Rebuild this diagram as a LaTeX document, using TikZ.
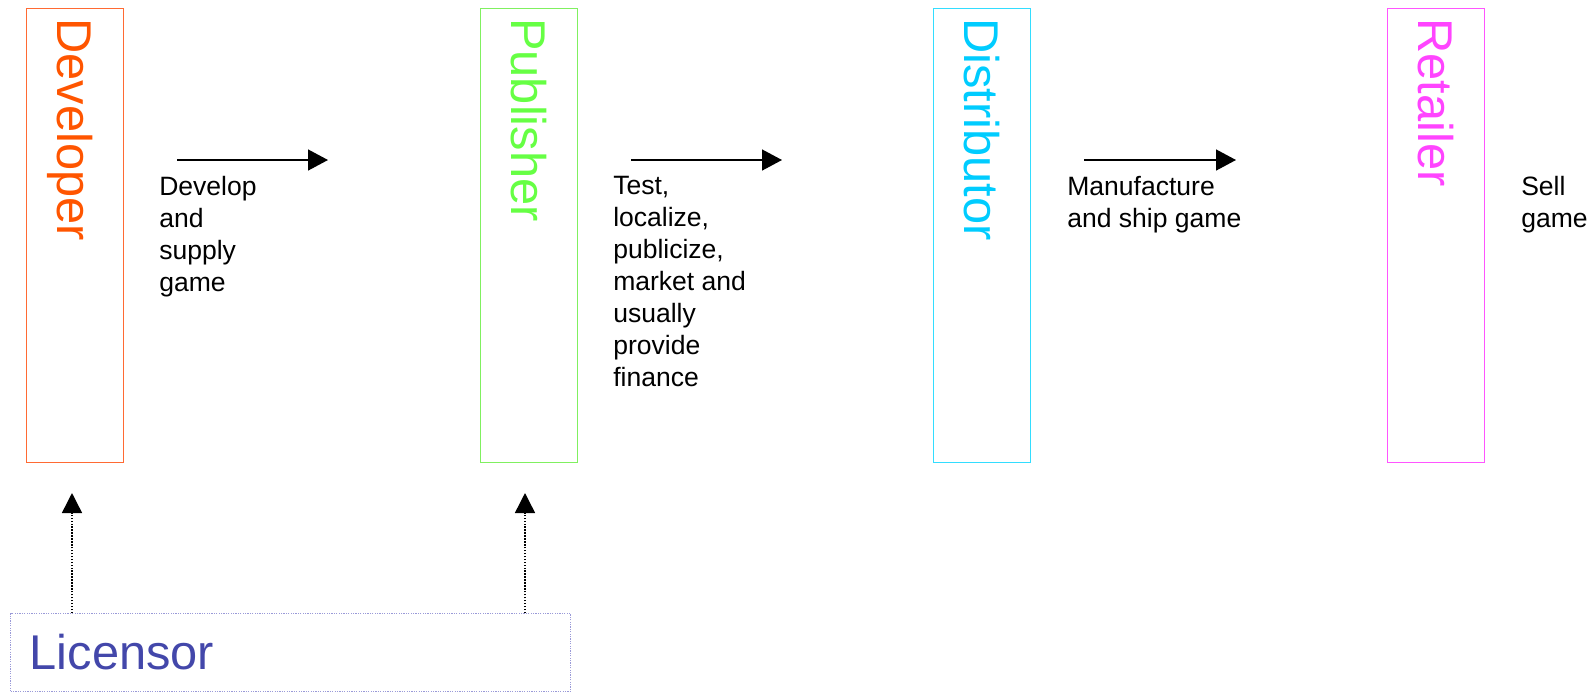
\documentclass[tikz,border=0pt]{standalone}
\usepackage{fontspec}
\setmainfont{Liberation Sans}
\usetikzlibrary{arrows.meta,calc}
% stage colours
\definecolor{devtext}{HTML}{FF5500}
\definecolor{devline}{HTML}{FF6A33}
\definecolor{pubtext}{HTML}{66FF44}
\definecolor{publine}{HTML}{80F060}
\definecolor{distext}{HTML}{00CCFF}
\definecolor{disline}{HTML}{33DDFF}
\definecolor{rettext}{HTML}{FF44FF}
\definecolor{retline}{HTML}{FF55FF}
\definecolor{lictext}{HTML}{4347AA}
\definecolor{licline}{HTML}{9A9AD8}
\begin{document}
\begin{tikzpicture}[x=0.75pt,y=-0.75pt,
  stagebox/.style={draw, line width=1.1pt, minimum width=72.75pt,
    minimum height=340.5pt, inner sep=0pt, anchor=north west},
  stagetitle/.style={rotate=-90, anchor=base west, inner sep=0pt,
    font=\fontsize{36.6pt}{42pt}\selectfont},
  task/.style={anchor=north west, inner sep=0pt, align=left,
    font=\fontsize{19.9pt}{24pt}\selectfont},
  flow/.style={line width=1.1pt, -{Triangle[length=15pt,width=15.75pt]}},
  licence/.style={line width=1.1pt, dash pattern=on 1.1pt off 1.1pt,
    -{Triangle[length=15pt,width=15pt]}}]
  \useasboundingbox (0,0) rectangle (1595,694);

  % the four stages of the chain
  \node[stagebox, draw=devline] (dev) at (26,8) {};
  \node[stagebox, draw=publine] (pub) at (480,8) {};
  \node[stagebox, draw=disline] (dis) at (933,8) {};
  \node[stagebox, draw=retline] (ret) at (1387,8) {};

  \node[stagetitle, text=devtext] (devt) at ($(dev.north west)+(31,10)$) {Developer};
  \node[stagetitle, text=pubtext] (pubt) at ($(pub.north west)+(31,10)$) {Publisher};
  \node[stagetitle, text=distext] (dist) at ($(dis.north west)+(31,10)$) {Distributor};
  \node[stagetitle, text=rettext] (rett) at ($(ret.north west)+(31,10)$) {Retailer};

  % what each stage does
  \node[task] (devtask) at (159,176) {Develop\\and\\supply\\game};
  \node[task] (pubtask) at (613,176) {Test,\\localize,\\publicize,\\market and\\usually\\provide\\finance};
  \node[task] (distask) at (1067,176) {Manufacture\\and ship game};
  \node[task] (rettask) at (1521,176) {Sell\\game};

  % flow arrows between stages
  \coordinate (f1s) at (177,160); \coordinate (f1e) at (328,160);
  \coordinate (f2s) at (631,160); \coordinate (f2e) at (782,160);
  \coordinate (f3s) at (1084,160); \coordinate (f3e) at (1236,160);
  \draw[flow] (f1s) -- (f1e);
  \draw[flow] (f2s) -- (f2e);
  \draw[flow] (f3s) -- (f3e);

  % licensor
  \node[draw=licline, line width=0.9pt, dash pattern=on 0.9pt off 0.9pt,
    minimum width=420pt, minimum height=58.5pt, inner sep=0pt,
    anchor=north west] (lic) at (10,613) {};
  \node[anchor=base west, inner sep=0pt, text=lictext,
    font=\fontsize{36.6pt}{42pt}\selectfont] (lict)
    at ($(lic.north west)+(19.5,56)$) {Licensor};

  \coordinate (l1) at (72,493);
  \coordinate (l2) at (525,493);
  \draw[licence] (l1 |- lic.north) -- (l1);
  \draw[licence] (l2 |- lic.north) -- (l2);
\end{tikzpicture}
\end{document}
